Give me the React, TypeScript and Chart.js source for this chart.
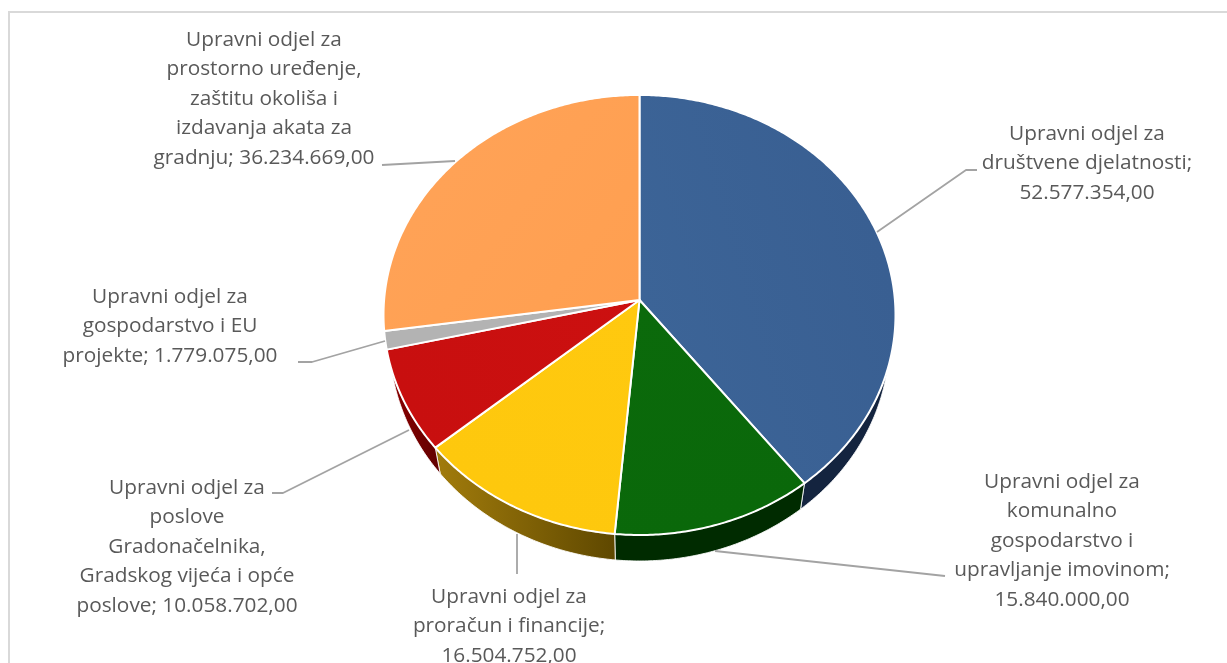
import React, { useEffect, useRef } from "react";
import { Chart, registerables } from "chart.js";

Chart.register(...registerables);

const categories = [
  "Upravni odjel za društvene djelatnosti",
  "Upravni odjel za komunalno gospodarstvo i upravljanje imovinom",
  "Upravni odjel za proračun i financije",
  "Upravni odjel za poslove Gradonačelnika, Gradskog vijeća i opće poslove",
  "Upravni odjel za gospodarstvo i EU projekte",
  "Upravni odjel za prostorno uređenje, zaštitu okoliša i izdavanja akata za gradnju",
];
const values = [52577354, 15840000, 16504752, 10058702, 1779075, 36234669];
const topColors = ["#3C6497", "#0B6A0B", "#FFC90F", "#CC1010", "#B3B3B3", "#FF9F50"];
const topColorsEdge = ["#395F92", "#0A680A", "#FEC80D", "#C80F0F", "#B3B3B3", "#FFA256"];
const wallLeft = ["#14243F", "#002B00", "#A27C0C", "#8E0000", "#6E6E6E", "#9C5E28"];
const wallRight = ["#14243F", "#002B00", "#5F4800", "#650000", "#6E6E6E", "#9C5E28"];
const labelLines = [
  ["Upravni odjel za", "društvene djelatnosti;", "52.577.354,00"],
  ["Upravni odjel za", "komunalno", "gospodarstvo i", "upravljanje imovinom;", "15.840.000,00"],
  ["Upravni odjel za", "proračun i financije;", "16.504.752,00"],
  ["Upravni odjel za", "poslove", "Gradonačelnika,", "Gradskog vijeća i opće", "poslove; 10.058.702,00"],
  ["Upravni odjel za", "gospodarstvo i EU", "projekte; 1.779.075,00"],
  ["Upravni odjel za", "prostorno uređenje,", "zaštitu okoliša i", "izdavanja akata za", "gradnju; 36.234.669,00"],
];
const labelCenterX = [1087, 1062, 509, 187, 170, 264];
const labelFirstY = [134, 482, 597, 488, 297, 40];
const leaders = [
  [[877, 232], [966, 170], [977, 170]],
  [[715, 551], [945, 576]],
  [[517, 534], [517, 574]],
  [[409, 430], [283, 493], [272, 493]],
  [[385, 341], [312, 362], [298, 362]],
  [[455, 161], [382, 165]],
];

const PERSPECTIVE = 0.068;
const TILT = 0.8575;
const WALL_X = 0.976;
const WALL_Y = 26;
const LINE_HEIGHT = 29.4;

function project(arc: any, angle: number) {
  const X = Math.cos(angle);
  const Y = Math.sin(angle);
  const d = 1 - PERSPECTIVE * Y;
  return {
    x: (arc.outerRadius * X) / d,
    y: (arc.outerRadius * TILT * Y) / d,
  };
}

function arcPoints(arc: any) {
  const steps = Math.max(2, Math.ceil((arc.endAngle - arc.startAngle) / 0.01));
  const pts = [];
  for (let i = 0; i <= steps; i++) {
    pts.push(project(arc, arc.startAngle + ((arc.endAngle - arc.startAngle) * i) / steps));
  }
  return pts;
}

const pie3d = {
  id: "pie3d",
  beforeDraw(chart: any) {
    const ctx = chart.ctx;
    ctx.save();
    ctx.strokeStyle = "#D9D9D9";
    ctx.lineWidth = 2;
    ctx.strokeRect(9, 12, 1300, 800);
    ctx.restore();
  },
  beforeDatasetDraw(chart: any, args: any) {
    const ctx = chart.ctx;
    const arcs = args.meta.data;
    // walls
    arcs.forEach((arc: any, i: number) => {
      const pts = arcPoints(arc);
      const cx = arc.x;
      const cy = arc.y;
      let minX = Infinity;
      let maxX = -Infinity;
      pts.forEach((p: any) => {
        minX = Math.min(minX, p.x);
        maxX = Math.max(maxX, p.x);
      });
      const g = ctx.createLinearGradient(cx + minX, 0, cx + maxX, 0);
      g.addColorStop(0, wallLeft[i]);
      g.addColorStop(1, wallRight[i]);
      ctx.beginPath();
      pts.forEach((p: any, k: number) => {
        if (k === 0) ctx.moveTo(cx + p.x, cy + p.y);
        else ctx.lineTo(cx + p.x, cy + p.y);
      });
      for (let k = pts.length - 1; k >= 0; k--) {
        ctx.lineTo(cx + pts[k].x * WALL_X, cy + pts[k].y + WALL_Y);
      }
      ctx.closePath();
      ctx.fillStyle = g;
      ctx.fill();
      ctx.strokeStyle = "rgba(255,255,255,0.85)";
      ctx.lineWidth = 1;
      ctx.stroke();
    });
    // top faces
    arcs.forEach((arc: any, i: number) => {
      const pts = arcPoints(arc);
      const cx = arc.x;
      const cy = arc.y;
      const mid = (arc.startAngle + arc.endAngle) / 2;
      const e = project(arc, mid);
      const g = ctx.createLinearGradient(cx, cy, cx + e.x, cy + e.y);
      g.addColorStop(0, topColors[i]);
      g.addColorStop(1, topColorsEdge[i]);
      ctx.beginPath();
      ctx.moveTo(cx, cy);
      pts.forEach((p: any) => ctx.lineTo(cx + p.x, cy + p.y));
      ctx.closePath();
      ctx.fillStyle = g;
      ctx.fill();
      ctx.strokeStyle = "#FFFFFF";
      ctx.lineWidth = 2;
      ctx.lineJoin = "round";
      ctx.stroke();
    });
    return false;
  },
  afterDatasetsDraw(chart: any) {
    const ctx = chart.ctx;
    ctx.save();
    ctx.strokeStyle = "#A3A3A3";
    ctx.lineWidth = 1.8;
    leaders.forEach((pts) => {
      ctx.beginPath();
      pts.forEach((p, k) => (k === 0 ? ctx.moveTo(p[0], p[1]) : ctx.lineTo(p[0], p[1])));
      ctx.stroke();
    });
    ctx.fillStyle = "#595959";
    ctx.font = '20.8px "Open Sans"';
    ctx.textAlign = "center";
    ctx.textBaseline = "middle";
    labelLines.forEach((lines, i) => {
      lines.forEach((line, k) => {
        ctx.fillText(line, labelCenterX[i], labelFirstY[i] + k * LINE_HEIGHT);
      });
    });
    ctx.restore();
  },
};

export default function App() {
  const ref = useRef<HTMLCanvasElement | null>(null);
  useEffect(() => {
    const chart = new Chart(ref.current as HTMLCanvasElement, {
      type: "pie",
      data: {
        labels: categories,
        datasets: [{ data: values, backgroundColor: topColors, borderColor: "#FFFFFF", borderWidth: 2 }],
      },
      options: {
        animation: false,
        responsive: false,
        radius: 255.4,
        layout: { padding: { left: 384.5, right: 332.5, top: 45, bottom: 108 } },
        plugins: { legend: { display: false }, tooltip: { enabled: false } },
      } as any,
      plugins: [pie3d as any],
    });
    return () => chart.destroy();
  }, []);
  return (
    <canvas
      ref={ref}
      width={1227}
      height={663}
      style={{ position: "fixed", left: 0, top: 0, width: 1227, height: 663, background: "#FFFFFF" }}
    />
  );
}
